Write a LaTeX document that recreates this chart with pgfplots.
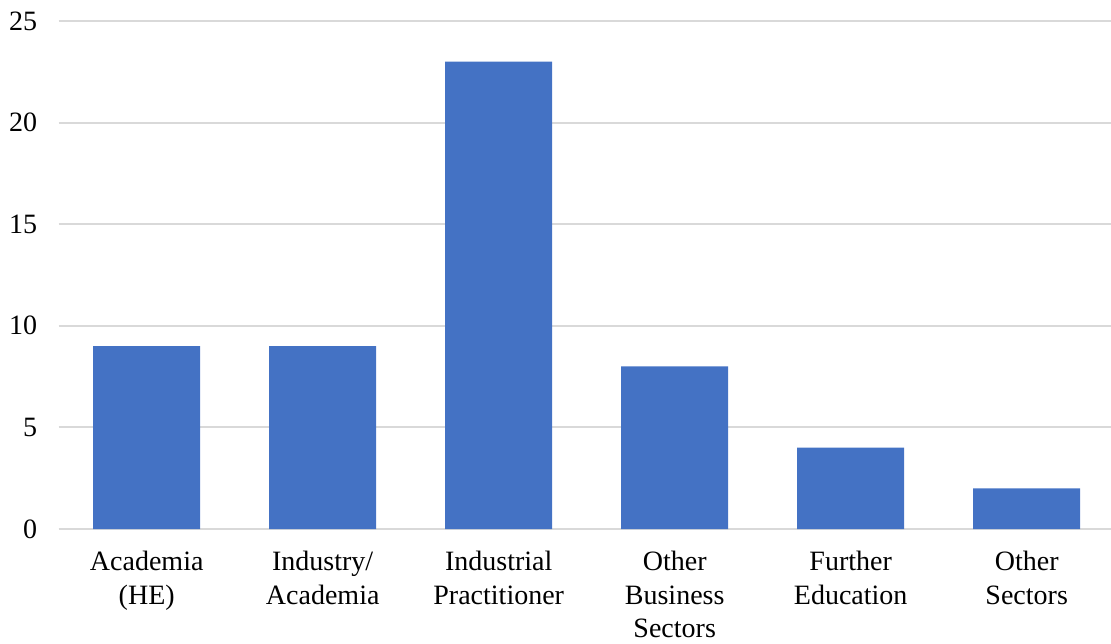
\documentclass[border=0pt]{standalone}
\usepackage{fontspec}
\setmainfont{Liberation Serif}
\usepackage{pgfplots}
\pgfplotsset{compat=1.18}
\definecolor{barblue}{HTML}{4472C4}
\definecolor{gridgray}{HTML}{D9D9D9}
\begin{document}
\begin{tikzpicture}
\begin{axis}[
  at={(0pt,0pt)}, anchor=south west,
  scale only axis,
  width=526.15pt, height=254pt,
  xmin=-0.5, xmax=5.479,
  ymin=0, ymax=25,
  ytick={0,5,10,15,20,25},
  xtick={0,1,2,3,4,5},
  xticklabels={{Academia\\(HE)},{Industry/\\Academia},{Industrial\\Practitioner},{Other\\Business\\Sectors},{Further\\Education},{Other\\Sectors}},
  axis x line*=bottom,
  axis y line*=left,
  x axis line style={gridgray, line width=1pt, -},
  y axis line style={draw=none},
  major tick length=0pt,
  ymajorgrids,
  grid style={gridgray, line width=1pt},
  /pgf/number format/assume math mode=true,
  yticklabel style={font=\fontsize{14}{16.8}\selectfont, anchor=east, xshift=-7.2pt},
  xticklabel style={font=\fontsize{14}{16.8}\selectfont, anchor=north, align=center, yshift=-7.5pt},
  ytick style={draw=none}, xtick style={draw=none},
  clip=false,
]
\addplot[ybar, bar width=0.608, fill=barblue, draw=none] coordinates {(0,9) (1,9) (2,23) (3,8) (4,4) (5,2)};
\end{axis}
\pgfresetboundingbox
\path[use as bounding box] (-29.35pt,-57pt) rectangle (526.15pt,264.5pt);
\end{tikzpicture}
\end{document}
